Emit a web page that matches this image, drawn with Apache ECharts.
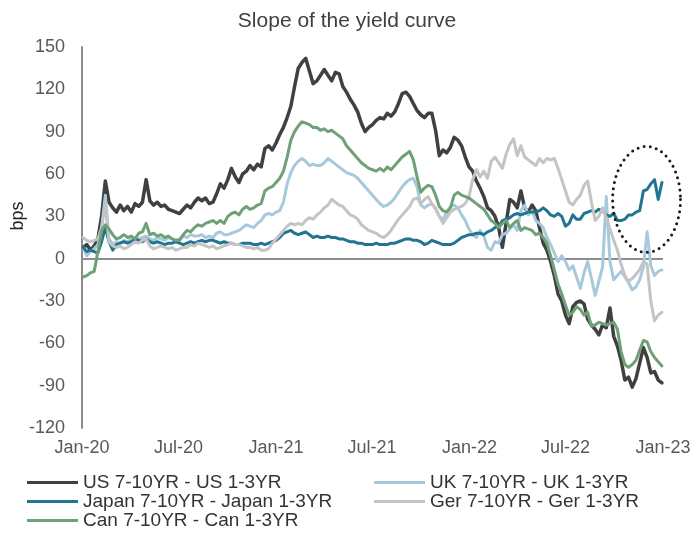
<!DOCTYPE html>
<html>
<head>
<meta charset="utf-8">
<title>Slope of the yield curve</title>
<script src="https://cdn.jsdelivr.net/npm/echarts@6/dist/echarts.min.js"></script>
<style>
  html, body { margin: 0; padding: 0; background: #ffffff; }
  #chart { width: 694px; height: 533px; }
</style>
</head>
<body>
<div id="chart"></div>
<script>
// Weekly observations (Friday closes) starting 3 Jan 2020, in basis points.
const firstWeek = '2020-01-03';

const usSlope = [
  8, 10, 6, 9, 14, 30, 55, 40, 36, 33, 38, 34, 37, 33, 39, 37, 40, 56, 41, 38,
  40, 37, 38, 35, 34, 33, 32, 35, 38, 36, 40, 43, 41, 43, 39, 40, 46, 53, 50, 56,
  64, 58, 54, 60, 62, 66, 63, 67, 65, 78, 80, 77, 82, 88, 93, 100, 108, 122, 135, 139,
  142, 133, 124, 126, 130, 134, 130, 126, 132, 131, 122, 118, 113, 109, 104, 96, 90, 93, 95, 98,
  100, 99, 103, 101, 104, 110, 117, 118, 115, 110, 105, 102, 100, 103, 103, 91, 73, 77, 75, 79,
  86, 84, 80, 72, 65, 62, 55, 50, 44, 36, 34, 30, 22, 8, 25, 42, 40, 36, 48, 36,
  33, 38, 34, 22, 11, 6, -2, -12, -25, -30, -40, -46, -34, -31, -30, -32, -43, -47, -50, -54,
  -47, -49, -35, -55, -62, -72, -86, -84, -91, -85, -74, -63, -70, -81, -80, -86, -88
];

const ukSlope = [
  8, 2, 5, 7, 10, 22, 45, 14, 10, 12, 11, 13, 12, 14, 12, 14, 15, 16, 14, 13,
  15, 14, 13, 15, 14, 13, 14, 16, 15, 17, 16, 16, 17, 15, 16, 15, 18, 19, 17, 17,
  18, 19, 20, 22, 24, 23, 22, 25, 27, 31, 32, 31, 33, 34, 40, 53, 61, 66, 69, 71,
  69, 66, 67, 66, 66, 68, 71, 69, 67, 65, 63, 61, 60, 59, 57, 54, 51, 48, 45, 42,
  39, 37, 38, 40, 43, 47, 51, 54, 56, 57, 51, 38, 36, 38, 39, 36, 30, 28, 33, 37,
  38, 36, 31, 27, 21, 17, 15, 20, 16, 8, 6, 12, 11, 17, 18, 21, 24, 20, 34, 38,
  31, 34, 27, 25, 22, 15, 10, 4, -2, 2, -2, -8, -5, -13, -21, -10, -2, -14, -26, -16,
  -6, 44, -2, -15, -12, -9, -13, -17, -22, -20, -15, -6, 19, -5, -12, -9, -8
];

const japanSlope = [
  8, 5, 6, 5, 4, 12, 22, 12, 6, 10, 11, 12, 11, 12, 14, 13, 12, 14, 12, 11,
  12, 11, 10, 11, 11, 12, 11, 10, 11, 12, 11, 12, 13, 12, 13, 13, 12, 11, 12, 11,
  11, 10, 10, 11, 11, 11, 10, 10, 11, 10, 11, 12, 13, 15, 18, 19, 20, 18, 17, 18,
  19, 17, 15, 16, 15, 15, 16, 15, 15, 14, 14, 13, 12, 12, 11, 11, 10, 10, 10, 11,
  10, 10, 10, 11, 11, 12, 13, 14, 14, 13, 13, 12, 10, 11, 13, 12, 11, 10, 10, 10,
  11, 13, 15, 16, 17, 17, 18, 18, 17, 19, 20, 22, 23, 27, 28, 29, 31, 32, 31, 32,
  33, 33, 33, 34, 36, 34, 31, 30, 32, 30, 23, 25, 31, 28, 28, 32, 33, 34, 33, 35,
  34, 31, 30, 32, 27, 27, 28, 31, 31, 33, 34, 48, 49, 53, 56, 42, 54
];

const gerSlope = [
  15, 13, 12, 13, 14, 22, 38, 12, 9, 8, 9, 7, 8, 10, 12, 11, 13, 14, 9, 7,
  8, 9, 8, 7, 8, 6, 7, 8, 8, 10, 9, 11, 10, 9, 8, 9, 7, 8, 9, 10,
  11, 10, 10, 9, 8, 8, 7, 8, 6, 6, 7, 11, 14, 17, 20, 23, 25, 24, 25, 24,
  27, 29, 28, 31, 33, 36, 38, 42, 40, 38, 37, 34, 31, 30, 28, 24, 22, 20, 19, 18,
  16, 15, 17, 20, 24, 28, 31, 34, 37, 42, 43, 39, 42, 44, 39, 35, 30, 25, 29, 33,
  35, 36, 37, 39, 44, 56, 63, 58, 62, 57, 69, 72, 68, 64, 74, 81, 85, 73, 80, 72,
  70, 68, 66, 71, 68, 71, 70, 71, 64, 56, 48, 40, 38, 42, 45, 52, 55, 40, 27, 30,
  36, 29, 21, 13, 6, -4, -12, -16, -14, -11, -8, -2, -4, -30, -44, -40, -38
];

const canSlope = [
  -13, -12, -10, -9, 5, 20, 24, 21, 17, 14, 15, 17, 15, 16, 14, 18, 19, 25, 17, 18,
  16, 17, 15, 16, 14, 13, 13, 17, 20, 19, 22, 24, 23, 25, 26, 27, 25, 27, 25, 30,
  32, 33, 31, 35, 37, 35, 36, 38, 39, 48, 50, 51, 54, 57, 62, 72, 84, 90, 94, 97,
  96, 95, 93, 93, 91, 92, 90, 91, 89, 87, 85, 80, 77, 74, 71, 68, 66, 64, 63, 62,
  64, 62, 65, 63, 66, 69, 72, 74, 76, 70, 58, 47, 50, 52, 51, 45, 37, 34, 33, 36,
  45, 47, 45, 44, 43, 41, 39, 37, 35, 31, 27, 25, 22, 25, 27, 22, 25, 27, 20, 22,
  21, 20, 17, 18, 15, 11, 2, -8, -18, -25, -33, -40, -38, -34, -36, -40, -38, -48, -47, -45,
  -46, -47, -46, -45, -50, -66, -75, -77, -75, -72, -65, -58, -59, -66, -70, -73, -76
];

const seriesNames = [
  'US 7-10YR - US 1-3YR',
  'UK 7-10YR - UK 1-3YR',
  'Japan 7-10YR - Japan 1-3YR',
  'Ger 7-10YR - Ger 1-3YR',
  'Can 7-10YR - Can 1-3YR'
];
const seriesColors = ['#404040', '#a6cadc', '#217592', '#c4c4c4', '#70a078'];

const tickDates = ['2020-01-01', '2020-07-01', '2021-01-01', '2021-07-01', '2022-01-01', '2022-07-01', '2023-01-01'];
const tickLabels = ['Jan-20', 'Jul-20', 'Jan-21', 'Jul-21', 'Jan-22', 'Jul-22', 'Jan-23'];

const yTicks = { min: -120, max: 150, step: 30 };

// Region singled out on the Japan curve (centre and half-widths in data units)
const highlight = { centre: ['2022-12-01', 42], halfDays: 64, halfBps: 37.5 };

// The horizontal axis counts calendar days from the first tick date.
const DAY = 86400000;
const utc = s => { const p = s.split('-').map(Number); return Date.UTC(p[0], p[1] - 1, p[2]); };
const origin = utc(tickDates[0]);
const dayOf = s => Math.round((utc(s) - origin) / DAY);
const firstDay = dayOf(firstWeek);
const toPairs = vals => vals.map((v, i) => [firstDay + i * 7, v]);
const tickDays = tickDates.map(dayOf);

const allValues = [usSlope, ukSlope, japanSlope, gerSlope, canSlope];

const series = allValues.map((vals, k) => ({
  name: seriesNames[k],
  type: 'line',
  data: toPairs(vals),
  showSymbol: false,
  symbol: 'none',
  smooth: false,
  lineStyle: { color: seriesColors[k], width: k === 0 ? 3.5 : 3, cap: 'round', join: 'round' },
  itemStyle: { color: seriesColors[k] },
  z: 3 + k
}));

// Horizontal reference at zero
series[0].markLine = {
  silent: true,
  symbol: ['none', 'none'],
  label: { show: false },
  lineStyle: { color: '#8c8c8c', width: 2, type: 'solid' },
  data: [{ yAxis: 0 }],
  z: 1
};

const chart = echarts.init(document.getElementById('chart'), null, { renderer: 'canvas' });

// Legend: two columns, one entry per legend box so each row sits exactly in place
const legendSlots = [
  { name: seriesNames[0], left: 27, top: 473 },
  { name: seriesNames[1], left: 374, top: 473 },
  { name: seriesNames[2], left: 27, top: 492 },
  { name: seriesNames[3], left: 374, top: 492 },
  { name: seriesNames[4], left: 27, top: 511 }
];
const legends = legendSlots.map(s => ({
  left: s.left,
  top: s.top,
  padding: 0,
  data: [s.name],
  icon: 'rect',
  itemWidth: 51,
  itemHeight: 3,
  textStyle: { fontFamily: 'Liberation Sans, Arial, sans-serif', fontSize: 19, color: '#333333', lineHeight: 19 },
  selectedMode: false
}));

chart.setOption({
  animation: false,
  backgroundColor: '#ffffff',
  title: {
    text: 'Slope of the yield curve',
    left: 'center',
    top: 6,
    textStyle: { fontFamily: 'Liberation Sans, Arial, sans-serif', fontSize: 21, fontWeight: 'normal', color: '#404040' }
  },
  legend: legends,
  grid: { left: 82, right: 31, top: 47, bottom: 105, containLabel: false },
  xAxis: {
    type: 'value',
    min: tickDays[0],
    max: tickDays[tickDays.length - 1],
    axisLine: { show: false },
    axisTick: { show: false },
    splitLine: { show: false },
    axisLabel: {
      customValues: tickDays,
      margin: 11,
      fontFamily: 'Liberation Sans, Arial, sans-serif',
      fontSize: 18,
      color: '#595959',
      showMinLabel: true,
      showMaxLabel: true,
      formatter: v => {
        const idx = tickDays.indexOf(v);
        return idx >= 0 ? tickLabels[idx] : '';
      }
    }
  },
  yAxis: {
    type: 'value',
    min: yTicks.min,
    max: yTicks.max,
    interval: yTicks.step,
    axisLine: { show: true, onZero: false, lineStyle: { color: '#8c8c8c', width: 2 } },
    axisTick: { show: false },
    splitLine: { show: false },
    axisLabel: {
      margin: 17,
      fontFamily: 'Liberation Sans, Arial, sans-serif',
      fontSize: 18,
      color: '#595959'
    }
  },
  series: series
});

// Axis title and the dotted ellipse, placed through the chart's own coordinate conversion
const cDay = dayOf(highlight.centre[0]);
const c = chart.convertToPixel({ xAxisIndex: 0, yAxisIndex: 0 }, [cDay, highlight.centre[1]]);
const e = chart.convertToPixel({ xAxisIndex: 0, yAxisIndex: 0 },
  [cDay + highlight.halfDays, highlight.centre[1] - highlight.halfBps]);
const rx = Math.abs(e[0] - c[0]);
const ry = Math.abs(e[1] - c[1]);
const ring = [];
for (let a = 0; a < 360; a += 2) {
  const t = a * Math.PI / 180;
  ring.push([c[0] + rx * Math.cos(t), c[1] + ry * Math.sin(t)]);
}

chart.setOption({
  graphic: [
    {
      type: 'text',
      x: 18,
      y: 216,
      rotation: Math.PI / 2,
      style: {
        text: 'bps',
        fontFamily: 'Liberation Sans, Arial, sans-serif',
        fontSize: 18,
        fill: '#262626',
        align: 'center',
        verticalAlign: 'middle'
      }
    },
    {
      type: 'polygon',
      shape: { points: ring },
      silent: true,
      z: 100,
      style: { fill: 'none', stroke: '#1a1a1a', lineWidth: 3, lineDash: [0, 6.2], lineCap: 'round' }
    }
  ]
});
</script>
</body>
</html>
